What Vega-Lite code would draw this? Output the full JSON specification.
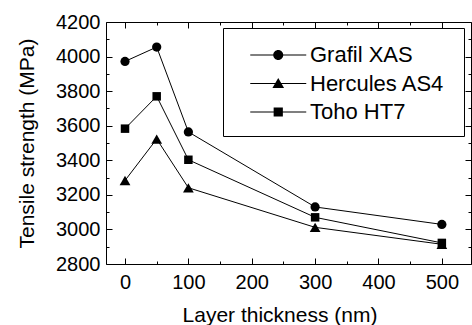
{
  "$schema": "https://vega.github.io/schema/vega-lite/v6.json",
  "width": 365,
  "height": 242,
  "autosize": {"type": "none"},
  "padding": {"left": 106, "top": 22, "right": 1, "bottom": 61},
  "background": "white",
  "config": {
    "view": {"stroke": "black", "strokeWidth": 1},
    "font": "Liberation Sans",
    "axis": {"domain": false, "ticks": false, "gridColor": "black", "gridOpacity": 1, "gridWidth": 1, "labelColor": "black", "titleColor": "black", "labelFont": "Liberation Sans", "titleFont": "Liberation Sans", "titleFontWeight": "normal"}
  },
  "data": {
    "values": [
      {"series": "Grafil XAS", "t": 0, "s": 3972},
      {"series": "Grafil XAS", "t": 50, "s": 4055},
      {"series": "Grafil XAS", "t": 100, "s": 3564},
      {"series": "Grafil XAS", "t": 300, "s": 3130},
      {"series": "Grafil XAS", "t": 500, "s": 3029},
      {"series": "Hercules AS4", "t": 0, "s": 3283},
      {"series": "Hercules AS4", "t": 50, "s": 3523},
      {"series": "Hercules AS4", "t": 100, "s": 3241},
      {"series": "Hercules AS4", "t": 300, "s": 3012},
      {"series": "Hercules AS4", "t": 500, "s": 2914},
      {"series": "Toho HT7", "t": 0, "s": 3583},
      {"series": "Toho HT7", "t": 50, "s": 3770},
      {"series": "Toho HT7", "t": 100, "s": 3403},
      {"series": "Toho HT7", "t": 300, "s": 3070},
      {"series": "Toho HT7", "t": 500, "s": 2922}
    ]
  },
  "layer": [
    {
      "mark": {"type": "line", "color": "black", "strokeWidth": 1},
      "encoding": {
        "x": {"field": "t", "type": "quantitative", "scale": {"domain": [-30, 546], "nice": false, "zero": false},
          "axis": {"orient": "bottom", "values": [0, 100, 200, 300, 400, 500], "grid": false, "labelFontSize": 20, "labelPadding": 8, "title": "Layer thickness (nm)", "titleFontSize": 21, "titlePadding": 12, "titleX": 173.5}},
        "y": {"field": "s", "type": "quantitative", "scale": {"domain": [2800, 4200], "nice": false, "zero": false},
          "axis": {"orient": "left", "values": [2800, 3000, 3200, 3400, 3600, 3800, 4000, 4200], "format": "d", "grid": false, "labelFontSize": 20, "labelPadding": 6, "title": "Tensile strength (MPa)", "titleFontSize": 21, "titlePadding": 18}},
        "detail": {"field": "series"}
      }
    },
    {
      "transform": [{"filter": {"field": "series", "equal": "Grafil XAS"}}],
      "mark": {"type": "point", "shape": "circle", "filled": true, "color": "black", "opacity": 1, "size": 85},
      "encoding": {
        "x": {"field": "t", "type": "quantitative",
          "axis": {"orient": "bottom", "values": [0, 100, 200, 300, 400, 500], "labels": false, "title": null, "grid": true, "gridDash": [6, 230, 6, 500]}},
        "y": {"field": "s", "type": "quantitative",
          "axis": {"orient": "left", "values": [2800, 3000, 3200, 3400, 3600, 3800, 4000, 4200], "labels": false, "title": null, "grid": true, "gridDash": [6, 353, 6, 500]}}
      }
    },
    {
      "transform": [{"filter": {"field": "series", "equal": "Hercules AS4"}}],
      "mark": {"type": "point", "shape": "triangle-up", "filled": true, "color": "black", "opacity": 1, "size": 115},
      "encoding": {
        "x": {"field": "t", "type": "quantitative",
          "axis": {"orient": "top", "values": [50, 150, 250, 350, 450], "labels": false, "title": null, "grid": true, "gridDash": [3, 236, 3, 500]}},
        "y": {"field": "s", "type": "quantitative",
          "axis": {"orient": "right", "values": [2900, 3100, 3300, 3500, 3700, 3900, 4100], "labels": false, "title": null, "grid": true, "gridDash": [3, 359, 3, 500]}}
      }
    },
    {
      "transform": [{"filter": {"field": "series", "equal": "Toho HT7"}}],
      "mark": {"type": "point", "shape": "square", "filled": true, "color": "black", "opacity": 1, "size": 72},
      "encoding": {
        "x": {"field": "t", "type": "quantitative", "axis": null},
        "y": {"field": "s", "type": "quantitative", "axis": null}
      }
    },
    {
      "mark": {"type": "point", "filled": true, "fill": "black", "stroke": "black", "strokeWidth": 1, "opacity": 0},
      "encoding": {
        "x": {"field": "t", "type": "quantitative", "axis": null},
        "y": {"field": "s", "type": "quantitative", "axis": null},
        "shape": {"field": "series", "type": "nominal",
          "scale": {"domain": ["Grafil XAS", "Hercules AS4", "Toho HT7"],
            "range": [
              "M-2.036,-0.036H2.036V0.036H-2.036ZM0.364,0A0.364,0.364 0 1,1 -0.364,0A0.364,0.364 0 1,1 0.364,0Z",
              "M-2.036,-0.036H2.036V0.036H-2.036ZM0,-0.4L0.425,0.327L-0.425,0.327Z",
              "M-2.036,-0.036H2.036V0.036H-2.036ZM-0.335,-0.335H0.335V0.335H-0.335Z"
            ]},
          "legend": {
            "orient": "none", "legendX": 117, "legendY": 6, "title": "\u00a0", "titleOrient": "right", "titlePadding": 6, "titleFontSize": 22,
            "labelFontSize": 22, "labelFont": "Liberation Sans", "labelColor": "black", "labelOffset": 17.75, "symbolOffset": 28.25,
            "symbolSize": 756, "symbolFillColor": "black", "symbolStrokeColor": "black", "symbolStrokeWidth": 0, "symbolOpacity": 1,
            "rowPadding": 3.5, "padding": 13, "strokeColor": "black", "fillColor": "white",
            "labelLimit": 400
          }
        }
      }
    }
  ],
  "resolve": {
    "axis": {"x": "independent", "y": "independent"}
  }
}
